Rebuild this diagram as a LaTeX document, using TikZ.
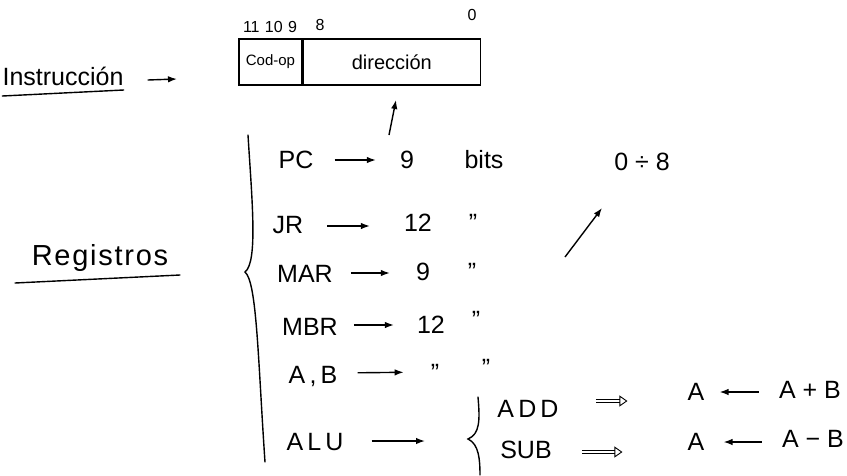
\documentclass[tikz,border=0pt]{standalone}
\usepackage{fontspec}
\setmainfont{Liberation Sans}
\usetikzlibrary{arrows.meta}
\begin{document}
\begin{tikzpicture}[x=1pt,y=-1pt,
  txt/.style={inner sep=0pt, anchor=base, font=\fontsize{25}{28}\selectfont},
  ttl/.style={inner sep=0pt, anchor=base, font=\fontsize{25}{28}\selectfont},
  bitn/.style={inner sep=0pt, anchor=base, font=\fontsize{16}{18}\selectfont},
  cell/.style={draw, line width=1.3pt, minimum height=46pt, inner sep=0pt},
  ink/.style={line width=1.4pt, line cap=round},
  arr/.style={line width=1.4pt, -{Latex[length=9pt,width=6.5pt]}},
  dbl/.style={double, double distance=2.2pt, line width=0.9pt, -{Triangle[open,length=8pt,width=11pt]}}
]
\useasboundingbox (0,0) rectangle (847,475);

% Instruccion
\node[ttl] (instr) at (63,85) {Instrucción};
\draw[ink] ([yshift=-11pt]instr.base west) -- ([yshift=-5pt]instr.base east);

% instruction word
\node[cell, minimum width=63pt, font=\fontsize{15}{17}\selectfont] (codop) at (270.5,62) {Cod-op};
\node[cell, minimum width=177pt, anchor=west, font=\fontsize{20}{22}\selectfont] (dir) at (codop.east) {dirección};
\coordinate (ia) at (177,79);
\draw[arr] ([xshift=24pt,yshift=5pt]instr.base east) -- (ia);

\node[bitn] (b11) at (270,32) {11\,\,10\,\,9};
\node[bitn] (b8) at (320,30) {8};
\node[bitn] (b0) at (472,20) {0};

\coordinate (u0) at (389,135);
\coordinate (u1) at (396,100);
\draw[arr] (u0) -- (u1);

% Registros
\node[ttl, font=\fontsize{29}{30}\selectfont\addfontfeatures{LetterSpace=6}] (reg) at (100,265) {Registros};
\draw[ink] (15,283) -- (180,275);

% brace
\draw[ink] (248,135) .. controls (252,200) and (258,262) .. (245,272) .. controls (257,282) and (258,360) .. (265,462);

% rows
\node[txt] (pc) at (296,168) {PC};
\node[txt] (pc9) at (407,168) {9};
\node[txt] (bits) at (484,168) {bits};
\node[txt] (rng) at (642,170) {0 ÷ 8};
\draw[arr, shorten <=21pt, shorten >=24pt] ([yshift=8pt]pc.base east) -- ([yshift=8pt]pc9.base west);

\node[txt] (jr) at (288,233) {JR};
\node[txt] (jr12) at (418,231) {12};
\node[txt] (jrq) at (473,231) {''};
\draw[arr, shorten <=24pt, shorten >=34pt] ([yshift=7pt]jr.base east) -- ([yshift=5pt]jr12.base west);

\node[txt] (mar) at (305,282) {MAR};
\node[txt] (mar9) at (423,280) {9};
\node[txt] (marq) at (472,280) {''};
\draw[arr, shorten <=18pt, shorten >=26pt] ([yshift=9pt]mar.base east) -- ([yshift=7pt]mar9.base west);

\node[txt] (mbr) at (310,335) {MBR};
\node[txt] (mbr12) at (431,333) {12};
\node[txt] (mbrq) at (476,328) {''};
\draw[arr, shorten <=16pt, shorten >=23pt] ([yshift=10pt]mbr.base east) -- ([yshift=8pt]mbr12.base west);

\node[txt] (ab) at (313,383) {A\,,\,B};
\node[txt] (abq1) at (435,381) {''};
\node[txt] (abq2) at (486,376) {''};
\draw[arr, shorten <=20pt, shorten >=27pt] ([yshift=10pt]ab.base east) -- ([yshift=9pt]abq1.base west);

\node[txt] (alu) at (315,450) {A\,L\,U};
\coordinate (aluend) at (425,441);
\draw[arr] ([xshift=28pt,yshift=9pt]alu.base east) -- (aluend);

% small brace
\draw[ink] (478,397) .. controls (480,420) and (480,434) .. (468,439) .. controls (479,444) and (480,460) .. (480,475);

% ALU ops
\node[txt] (add) at (528,417) {A\,D\,D};
\node[txt] (adda) at (696,400) {A};
\node[txt] (addr) at (810,398) {A + B};
\draw[dbl, shorten <=37pt, shorten >=60pt] ([yshift=16pt]add.base east) -- ([yshift=-1pt]adda.base west);
\draw[arr, shorten <=20pt, shorten >=15pt] ([yshift=6pt]addr.base west) -- ([yshift=8pt]adda.base east);

\node[txt] (sub) at (526,458) {SUB};
\node[txt] (suba) at (696,450) {A};
\node[txt] (subr) at (813,447) {A − B};
\draw[dbl, shorten <=30pt, shorten >=65pt] ([yshift=6pt]sub.base east) -- ([yshift=-2pt]suba.base west);
\draw[arr, shorten <=20pt, shorten >=19pt] ([yshift=5pt]subr.base west) -- ([yshift=8pt]suba.base east);

% diagonal arrow
\coordinate (d0) at (565,257);
\coordinate (d1) at (602,208);
\draw[arr] (d0) -- (d1);
\end{tikzpicture}
\end{document}
